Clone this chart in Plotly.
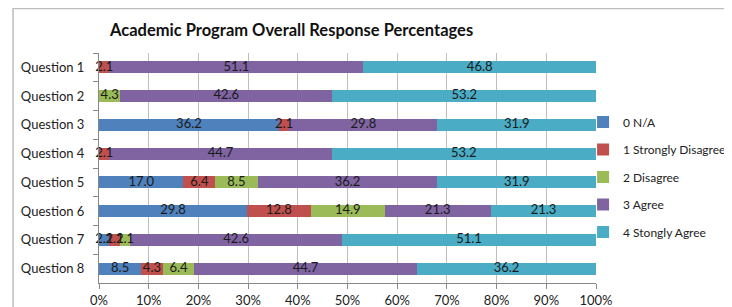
import plotly.graph_objects as go

questions = ["Question 1", "Question 2", "Question 3", "Question 4",
             "Question 5", "Question 6", "Question 7", "Question 8"]
series_names = ["0 N/A", "1 Strongly Disagree", "2 Disagree", "3 Agree", "4 Stongly Agree"]
na_vals = [0, 0, 36.2, 0, 17.0, 29.8, 2.1, 8.5]
sd_vals = [2.1, 0, 2.1, 2.1, 6.4, 12.8, 2.1, 4.3]
dis_vals = [0, 4.3, 0, 0, 8.5, 14.9, 2.1, 6.4]
agree_vals = [51.1, 42.6, 29.8, 44.7, 36.2, 21.3, 42.6, 44.7]
sa_vals = [46.8, 53.2, 31.9, 53.2, 31.9, 21.3, 51.1, 36.2]
x_ticks = [0, 10, 20, 30, 40, 50, 60, 70, 80, 90, 100]
x_tick_labels = ["0%", "10%", "20%", "30%", "40%", "50%", "60%", "70%", "80%", "90%", "100%"]

colors = ["#4F81BD", "#C0504D", "#9BBB59", "#8064A2", "#4BACC6"]
all_vals = [na_vals, sd_vals, dis_vals, agree_vals, sa_vals]

fig = go.Figure()
for i, (name, vals) in enumerate(zip(series_names, all_vals)):
    fig.add_trace(go.Bar(
        y=questions, x=vals, name=name, orientation="h",
        marker=dict(color=colors[i], line=dict(width=0)),
        width=0.42, textposition="none",
        legendgroup=name, hoverinfo="skip",
    ))

# data labels drawn above all bars, centred on each segment
left = [0.0] * len(questions)
for i, (name, vals) in enumerate(zip(series_names, all_vals)):
    xs, ys, ts = [], [], []
    for j, v in enumerate(vals):
        if v > 0:
            xs.append(left[j] + v / 2)
            ys.append(questions[j])
            ts.append(f"{v:.1f}")
        left[j] += v
    fig.add_trace(go.Scatter(
        x=xs, y=ys, text=ts, mode="text", textposition="middle center",
        textfont=dict(family="Lato, sans-serif", size=13, color="#1a1a1a"),
        showlegend=False, hoverinfo="skip", cliponaxis=False,
    ))

fig.update_layout(
    barmode="stack",
    width=724, height=299,
    margin=dict(l=91, r=136, t=45, b=24, autoexpand=False),
    paper_bgcolor="white", plot_bgcolor="white",
    font=dict(family="Lato, sans-serif", size=13, color="#222"),
    showlegend=True,
    legend=dict(x=0.974, y=0.763, xanchor="left", yanchor="top",
                traceorder="grouped", tracegroupgap=8.5,
                font=dict(family="Lato, sans-serif", size=12, color="#222"),
                itemwidth=30, bgcolor="rgba(0,0,0,0)"),
    xaxis=dict(range=[0, 100], tickvals=x_ticks, ticktext=x_tick_labels,
               showgrid=True, gridcolor="#BFBFBF", gridwidth=1,
               showline=True, linecolor="#888", linewidth=1,
               ticks="outside", ticklen=5, tickcolor="#888",
               tickfont=dict(size=13, color="#222"), zeroline=False, fixedrange=True),
    yaxis=dict(autorange="reversed", showline=True, linecolor="#888", linewidth=1,
               ticks="outside", ticklen=5, tickcolor="#888", tickson="boundaries",
               tickfont=dict(size=13, color="#222"), showgrid=False, ticklabelstandoff=11),
    annotations=[dict(text="<b>Academic Program Overall Response Percentages</b>",
                      xref="paper", yref="paper", x=0.386, y=1.10,
                      xanchor="center", yanchor="middle", showarrow=False,
                      font=dict(family="Lato, sans-serif", size=16.5, color="#111"))],
    shapes=[dict(type="rect", xref="paper", yref="paper",
                 x0=-0.173, x1=1.35, y0=-0.3, y1=1.1935,
                 line=dict(color="#BDBDBD", width=1.5), fillcolor="rgba(0,0,0,0)",
                 layer="below")],
)

fig.write_html("out.html")
